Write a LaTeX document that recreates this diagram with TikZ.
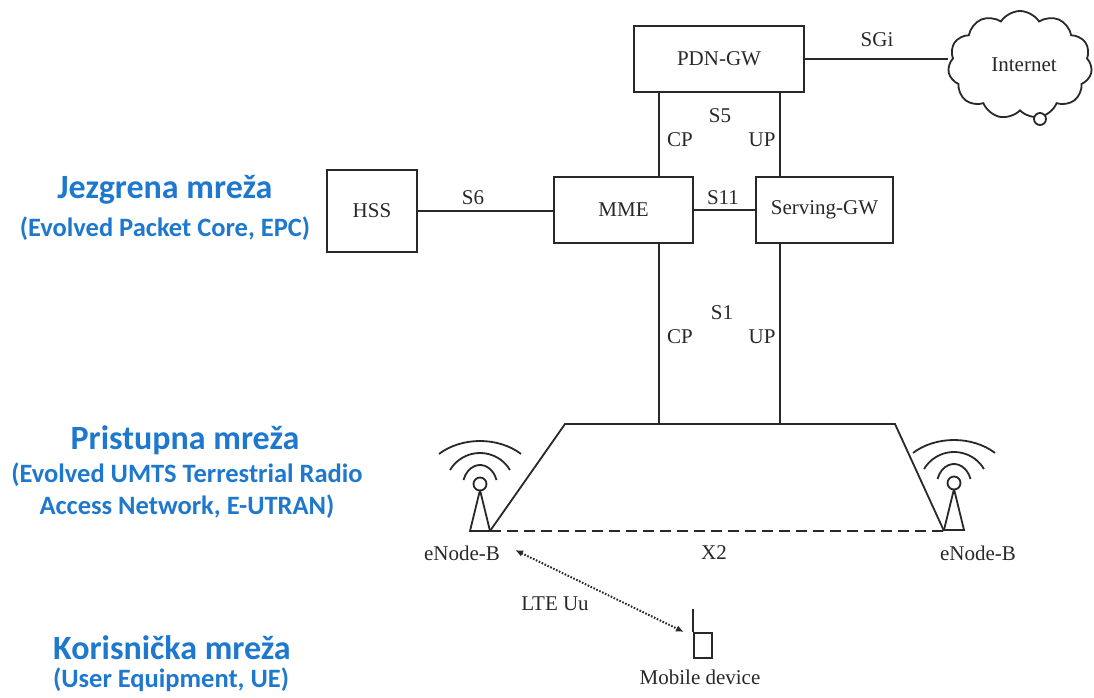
\documentclass[tikz,border=0pt]{standalone}
\usepackage{fontspec}
\setmainfont{Liberation Serif}
\newfontfamily\bluefont{Carlito}
\usetikzlibrary{shapes.symbols,arrows.meta}
\definecolor{epcblue}{RGB}{30,120,205}
\definecolor{ink}{RGB}{40,40,40}
\begin{document}
\begin{tikzpicture}[x=1pt,y=-1pt,
  box/.style={draw=ink,line width=1.8pt,inner sep=0pt,font=\fontsize{21}{24}\selectfont,text=ink},
  lbl/.style={font=\fontsize{21}{24}\selectfont,text=ink,inner sep=0pt},
  bigtitle/.style={font=\bluefont\bfseries\fontsize{34}{40}\selectfont,text=epcblue,inner sep=0pt},
  subtitle/.style={font=\bluefont\bfseries\fontsize{26.5}{32}\selectfont,text=epcblue,align=center,inner sep=0pt},
  wire/.style={draw=ink,line width=1.8pt},
  antenna/.pic={
    \draw[wire,line join=miter] (-10,44) -- (0,3) -- (10,44) -- cycle;
    \draw[wire,fill=white] (0,-3) circle (6.5);
    \draw[wire] (0,0) ++(-18.5:17.4 and 22) arc[start angle=-18.5,end angle=-161.5,x radius=17.4,y radius=22];
    \draw[wire] (0,0) ++(-30:34.6 and 34) arc[start angle=-30,end angle=-150,x radius=34.6,y radius=34];
    \draw[wire] (0,0) ++(-46:59 and 46) arc[start angle=-46,end angle=-134,x radius=59,y radius=46];
  }]
\useasboundingbox (0,0) rectangle (1094,697);

% blue side titles
\node[bigtitle] (t1) at (165,190) {Jezgrena mreža};
\node[subtitle] (s1) at (165,229) {(Evolved Packet Core, EPC)};
\node[bigtitle] (t2) at (185,440) {Pristupna mreža};
\node[subtitle] (s2) at (187,491) {(Evolved UMTS Terrestrial Radio\\Access Network, E-UTRAN)};
\node[bigtitle] (t3) at (172,648) {Korisnička mreža};
\node[subtitle] (s3) at (171,680) {(User Equipment, UE)};

% boxes
\node[box,minimum width=170,minimum height=66] (pdn) at (719,59) {PDN-GW};
\node[box,minimum width=90,minimum height=82] (hss) at (372,211) {HSS};
\node[box,minimum width=139,minimum height=66] (mme) at (623.5,210) {MME};
\node[box,minimum width=137,minimum height=66] (sgw) at (824.5,210) {Serving-GW};
\node[cloud,draw=ink,line width=1.8pt,cloud puffs=11,cloud puff arc=115,aspect=1.4,
      minimum width=144,minimum height=108,inner sep=0pt,font=\fontsize{21}{24}\selectfont,text=ink]
      (cloud) at (1020,65) {\hspace*{8pt}Internet};
\draw[wire,fill=white] (1040,119) circle (6) coordinate (loop);

% helper coordinates
\coordinate (cpx) at (659,0);
\coordinate (upx) at (780,0);
\coordinate (tl) at (565,424);
\coordinate (tr) at (895,424);
\coordinate (bl) at (490,531);
\coordinate (br) at (944,531);

% connectors
\draw[wire] (pdn.east) -- (pdn.east -| cloud.west);
\draw[wire] (hss.east) -- (hss.east -| mme.west);
\draw[wire] (mme.east) -- (sgw.west);
\draw[wire] (pdn.south -| cpx) -- (mme.north -| cpx);
\draw[wire] (pdn.south -| upx) -- (sgw.north -| upx);
\draw[wire] (mme.south -| cpx) -- (tl -| cpx);
\draw[wire] (sgw.south -| upx) -- (tl -| upx);
\draw[wire] (bl) -- (tl) -- (tr) -- (br);
\draw[wire,dash pattern=on 11pt off 6pt] (bl) -- (br);

% antennas
\pic at (480,487) {antenna};
\pic at (954,486) {antenna};

% mobile device
\coordinate (mtop) at (693,609);
\node[draw=ink,line width=1.8pt,minimum width=18,minimum height=25,inner sep=0pt,anchor=north west] (mob) at (693,632) {};
\draw[wire] (mtop) -- (mob.north west);

% labels
\node[lbl] (lsgi) at (877,40) {SGi};
\node[lbl] (ls5) at (720,116) {S5};
\node[lbl] (lcp1) at (680,140) {CP};
\node[lbl] (lup1) at (762,140) {UP};
\node[lbl] (ls6) at (473,198) {S6};
\node[lbl] (ls11) at (723,198) {S11};
\node[lbl] (ls1) at (722,313) {S1};
\node[lbl] (lcp2) at (680,337) {CP};
\node[lbl] (lup2) at (762,337) {UP};
\node[lbl] (enb1) at (462,553) {eNode-B};
\node[lbl] (enb2) at (978,553) {eNode-B};
\node[lbl] (lx2) at (714,553) {X2};
\node[lbl] (llte) at (555,604) {LTE Uu};
\node[lbl] (lmob) at (700,677) {Mobile device};

% radio link
\coordinate (ra) at (515,550);
\coordinate (rb) at (684,632);
\draw[draw=ink,line width=2pt,dash pattern=on 1.6pt off 1.6pt,{Latex[length=8pt,width=6.5pt]}-{Latex[length=8pt,width=6.5pt]}] (ra) -- (rb);
\end{tikzpicture}
\end{document}
